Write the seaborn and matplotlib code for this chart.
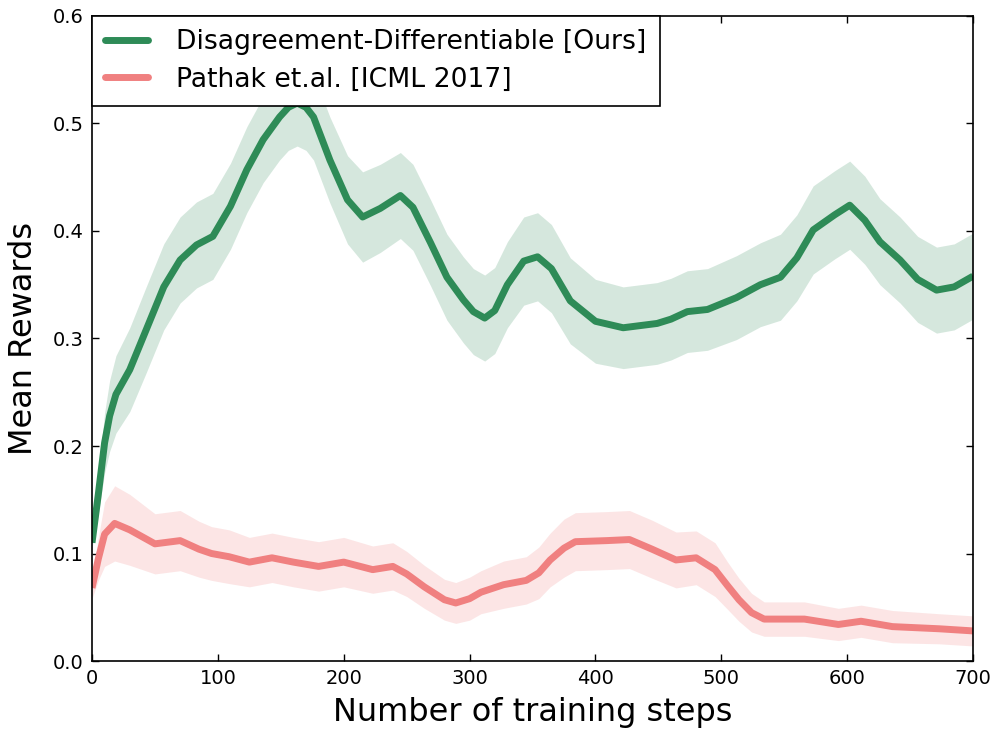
import numpy as np
import pandas as pd
import matplotlib
matplotlib.use("Agg")
import matplotlib.pyplot as plt
import seaborn as sns
from matplotlib.lines import Line2D

# ---- data ----
ours_x = [0, 5, 10, 14, 19, 30, 43, 57, 70, 83, 96, 110, 123, 136, 149, 156, 163, 170, 176,
          189, 203, 215, 229, 245, 255, 269, 282, 295, 303, 312, 320, 330, 343, 354, 365,
          380, 400, 422, 449, 460, 473, 489, 512, 531, 547, 560, 573, 590, 602, 614, 626,
          642, 656, 671, 685, 700]
ours_mean = [0.110, 0.155, 0.203, 0.228, 0.248, 0.271, 0.308, 0.348, 0.373, 0.387, 0.395,
             0.423, 0.457, 0.485, 0.506, 0.515, 0.519, 0.515, 0.506, 0.466, 0.429, 0.413,
             0.421, 0.433, 0.422, 0.389, 0.357, 0.336, 0.325, 0.319, 0.326, 0.350, 0.372,
             0.376, 0.365, 0.335, 0.316, 0.310, 0.314, 0.318, 0.325, 0.327, 0.338, 0.350,
             0.357, 0.375, 0.401, 0.415, 0.424, 0.410, 0.390, 0.373, 0.355, 0.345, 0.348,
             0.358]
ours_err = [0.005, 0.018, 0.028, 0.033, 0.036, 0.039, 0.040, 0.040, 0.040, 0.040, 0.040,
            0.040, 0.040, 0.040, 0.040, 0.040, 0.040, 0.040, 0.040, 0.040, 0.041, 0.042,
            0.041, 0.040, 0.040, 0.040, 0.040, 0.040, 0.040, 0.040, 0.040, 0.040, 0.041,
            0.041, 0.041, 0.040, 0.039, 0.038, 0.038, 0.038, 0.038, 0.038, 0.039, 0.039,
            0.040, 0.040, 0.041, 0.041, 0.041, 0.041, 0.040, 0.040, 0.040, 0.040, 0.040,
            0.040]

pathak_x = [0, 5, 10, 18, 30, 50, 70, 85, 95, 109, 125, 143, 160, 180, 200, 223, 239, 250,
            264, 280, 289, 300, 309, 327, 345, 355, 364, 375, 384, 409, 427, 445, 464, 480,
            495, 505, 514, 524, 534, 566, 593, 611, 636, 673, 700]
pathak_mean = [0.068, 0.095, 0.118, 0.128, 0.122, 0.109, 0.112, 0.104, 0.100, 0.097, 0.092,
               0.096, 0.092, 0.088, 0.092, 0.085, 0.088, 0.081, 0.069, 0.057, 0.054, 0.058,
               0.064, 0.071, 0.075, 0.082, 0.094, 0.105, 0.111, 0.112, 0.113, 0.104, 0.094,
               0.096, 0.085, 0.070, 0.057, 0.045, 0.039, 0.039, 0.034, 0.037, 0.032, 0.030,
               0.028]
pathak_err = [0.010, 0.020, 0.030, 0.035, 0.033, 0.028, 0.028, 0.026, 0.025, 0.025, 0.023,
              0.023, 0.023, 0.023, 0.023, 0.022, 0.022, 0.021, 0.020, 0.019, 0.019, 0.020,
              0.020, 0.022, 0.022, 0.024, 0.025, 0.027, 0.027, 0.027, 0.027, 0.027, 0.026,
              0.025, 0.025, 0.022, 0.020, 0.018, 0.016, 0.016, 0.015, 0.015, 0.015, 0.014,
              0.014]

labels = ["Disagreement-Differentiable [Ours]", "Pathak et.al. [ICML 2017]"]
colors = ["#2e8b57", "#f08080"]
x_ticks = [0, 100, 200, 300, 400, 500, 600, 700]
y_ticks = [0.0, 0.1, 0.2, 0.3, 0.4, 0.5, 0.6]

# ---- styling ----
sns.set_style("ticks", {"xtick.direction": "in", "ytick.direction": "in",
                        "axes.edgecolor": "black", "text.color": "black",
                        "axes.labelcolor": "black", "xtick.color": "black",
                        "ytick.color": "black"})
plt.rcParams["font.family"] = ["DejaVu Sans"]

df = pd.concat([
    pd.DataFrame({"step": ours_x, "reward": ours_mean, "method": labels[0]}),
    pd.DataFrame({"step": pathak_x, "reward": pathak_mean, "method": labels[1]}),
])

fig = plt.figure(figsize=(9.98, 7.33), dpi=100)
ax = fig.add_axes([0.0922, 0.0982, 0.8828, 0.8800])

for xs, m, e, c in [(ours_x, ours_mean, ours_err, colors[0]),
                    (pathak_x, pathak_mean, pathak_err, colors[1])]:
    m = np.asarray(m); e = np.asarray(e)
    ax.fill_between(xs, m - e, m + e, color=c, alpha=0.2, linewidth=0)

sns.lineplot(data=df, x="step", y="reward", hue="method", hue_order=labels,
             palette=colors, linewidth=5, ax=ax, legend=False,
             solid_joinstyle="round", solid_capstyle="butt")

ax.set_xlim(0, 700)
ax.set_ylim(0, 0.6)
ax.set_xticks(x_ticks)
ax.set_yticks(y_ticks)
ax.set_yticklabels([f"{v:.1f}" for v in y_ticks])
ax.tick_params(axis="both", which="major", direction="in", length=5, width=1,
               labelsize=14, pad=6, top=True, right=True, color="black",
               labelcolor="black")
for s in ax.spines.values():
    s.set_linewidth(1.2)
    s.set_color("black")

ax.set_xlabel("Number of training steps", fontsize=23, labelpad=6, color="black")
ax.set_ylabel("Mean Rewards", fontsize=23, labelpad=10, color="black")

handles = [Line2D([], [], color=c, linewidth=5) for c in colors]
leg = ax.legend(handles, labels, loc="upper left", fontsize=19.2, frameon=True,
                fancybox=False, edgecolor="black", framealpha=1,
                borderaxespad=0, handlelength=1.6, handletextpad=1.05,
                labelspacing=0.42, borderpad=0.5)
leg.get_frame().set_linewidth(1.2)
for t in leg.get_texts():
    t.set_color("black")

fig.savefig("out.png", dpi=100)
